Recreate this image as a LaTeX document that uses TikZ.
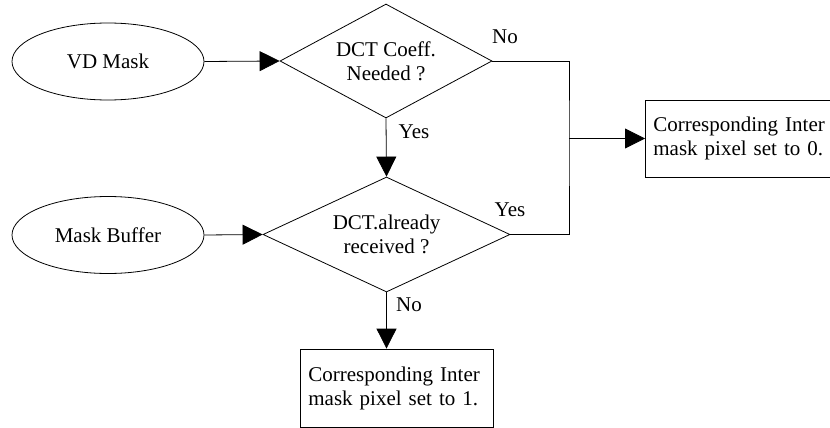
\documentclass[tikz,border=0pt]{standalone}
\usepackage{fontspec}
\setmainfont{Liberation Serif}
\usetikzlibrary{shapes.geometric,arrows.meta}
\begin{document}
\begin{tikzpicture}[x=1pt,y=-1pt,
  every node/.style={font=\fontsize{21}{24}\selectfont, inner sep=0pt},
  source/.style={ellipse, draw, line width=0.8pt, minimum width=192pt, minimum height=77pt},
  decision/.style={diamond, draw, line width=0.8pt, align=center},
  outbox/.style={rectangle, draw, line width=0.8pt, align=left, inner xsep=8pt, anchor=west},
  flow/.style={line width=0.8pt, -{Triangle[length=20pt,width=20pt]}},
  wire/.style={line width=0.8pt},
  tag/.style={anchor=center}]
  \useasboundingbox (0,0) rectangle (830,428);

  % inputs
  \node[source] (vd) at (108,61.5) {VD Mask};
  \node[source] (mb) at (108,235) {Mask Buffer};

  % decisions
  \node[decision, aspect=1.86, minimum width=212pt, minimum height=114pt] (d1) at (386,61) {DCT Coeff.\\Needed ?};
  \node[decision, aspect=2.15, minimum width=247pt, minimum height=115pt] (d2) at (386.5,234.5) {DCT.already\\received ?};

  % results (the right-hand box runs past the right edge)
  \node[outbox, minimum width=240pt, minimum height=77pt, text width=224pt] (b0) at (645,138.5) {Corresponding Inter\\mask pixel set to 0.};
  \node[outbox, minimum width=193pt, minimum height=78pt, text width=177pt] (b1) at (300,388) {Corresponding Inter\\mask pixel set to 1.};

  % junction on the right-hand bus
  \coordinate (j) at (569,138.5);

  % connectors
  \draw[flow] (vd.east) -- (d1.west);
  \draw[flow] (mb.east) -- (d2.west);
  \draw[flow] (d1.south) -- (d2.north);
  \draw[flow] (d2.south) -- (d2.south |- b1.north);
  \draw[wire] (d1.east) -| (j) |- (d2.east);
  \draw[flow] (j) -- (b0.west);

  % branch labels
  \node[tag] (lno1) at (505,37) {No};
  \node[tag] (lyes1) at (414,132) {Yes};
  \node[tag] (lyes2) at (510,210) {Yes};
  \node[tag] (lno2) at (409,305) {No};
\end{tikzpicture}
\end{document}
